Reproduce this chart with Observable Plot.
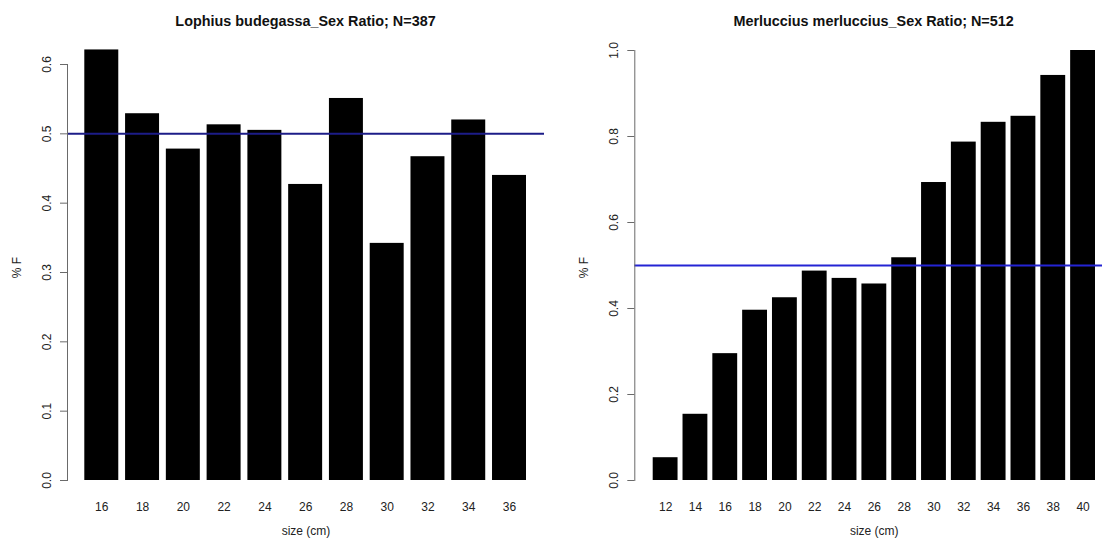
<!DOCTYPE html>
<html>
<head>
<meta charset="utf-8">
<script src="https://cdn.jsdelivr.net/npm/d3@7"></script>
<script src="https://cdn.jsdelivr.net/npm/@observablehq/plot@0.6"></script>
<style>
html, body { margin: 0; padding: 0; background: #fff; }
#wrap { position: relative; width: 1102px; height: 539px; overflow: hidden;
        font-family: "Liberation Sans", Arial, Helvetica, sans-serif; }
.panel { position: absolute; top: 0; width: 551px; height: 539px; }
.title { position: absolute; top: 0; height: 40px; width: 420px; text-align: center;
         font-weight: bold; font-size: 14.4px; line-height: 43px; color: #111; white-space: nowrap; }
.chart { position: absolute; top: 40px; left: 0; }
</style>
</head>
<body>
<div id="wrap">
  <div class="panel" style="left:0px">
    <div class="title" id="t1" style="left:95.5px"></div>
    <div class="chart" id="c1"></div>
  </div>
  <div class="panel" style="left:551px">
    <div class="title" id="t2" style="left:112.6px"></div>
    <div class="chart" id="c2"></div>
  </div>
</div>
<script>
// ---- Data ----
const leftTitle = "Lophius budegassa_Sex Ratio; N=387";
const leftSizes = [16, 18, 20, 22, 24, 26, 28, 30, 32, 34, 36];
const leftRatio = [0.621, 0.529, 0.478, 0.513, 0.505, 0.427, 0.551, 0.342, 0.467, 0.520, 0.440];
const leftTicks = [0, 0.1, 0.2, 0.3, 0.4, 0.5, 0.6];

const rightTitle = "Merluccius merluccius_Sex Ratio; N=512";
const rightSizes = [12, 14, 16, 18, 20, 22, 24, 26, 28, 30, 32, 34, 36, 38, 40];
const rightRatio = [0.053, 0.154, 0.295, 0.396, 0.425, 0.487, 0.470, 0.457, 0.518, 0.693, 0.787, 0.833, 0.847, 0.942, 1.0];
const rightTicks = [0, 0.2, 0.4, 0.6, 0.8, 1.0];

const refLine = [0.5];
const yLabel = "% F";
const xLabel = "size (cm)";

function panel(o) {
  const data = o.sizes.map((s, i) => ({size: s, ratio: o.ratios[i]}));
  return Plot.plot({
    width: 551,
    height: 499,
    marginLeft: o.marginLeft,
    marginRight: o.marginRight,
    marginTop: o.marginTop,
    marginBottom: 59,
    style: {fontFamily: '"Liberation Sans", Arial, Helvetica, sans-serif', fontSize: "12px",
            color: "#222", background: "transparent", overflow: "visible"},
    x: {type: "band", domain: o.sizes, paddingInner: 1 / 6, paddingOuter: 0, round: false,
        insetLeft: o.insetLeft, insetRight: o.insetRight, label: null},
    y: {domain: [0, o.yMax], label: null},
    marks: [
      Plot.barY(data, {x: "size", y: "ratio", fill: "black"}),
      Plot.ruleY(refLine, {stroke: o.lineColor, strokeWidth: 2}),
      Plot.frame({anchor: "left", stroke: "#6a6a6a"}),
      Plot.axisY({ticks: o.ticks, tickSize: 7, tickPadding: 13.5, tickRotate: -90,
                  textAnchor: "middle", lineAnchor: "middle", stroke: "#6a6a6a",
                  tickFormat: d3.format(".1f"), label: null}),
      Plot.axisX({tickSize: 0, tickPadding: 22, label: null}),
      Plot.text([yLabel], {text: d => d, frameAnchor: "left", rotate: -90, textAnchor: "middle",
                           lineAnchor: "middle", dx: -50.5, dy: o.yLabelDy}),
      Plot.text([xLabel], {text: d => d, frameAnchor: "bottom", textAnchor: "middle",
                           lineAnchor: "middle", dy: 51, dx: o.xLabelDx})
    ]
  });
}

document.getElementById("t1").textContent = leftTitle;
document.getElementById("t2").textContent = rightTitle;

document.getElementById("c1").append(panel({
  sizes: leftSizes, ratios: leftRatio, ticks: leftTicks, yMax: 0.6,
  marginLeft: 67, marginRight: 7, marginTop: 24, insetLeft: 17.3, insetRight: 18,
  lineColor: "#1c1c88", yLabelDy: -5, xLabelDx: 0
}));
document.getElementById("c2").append(panel({
  sizes: rightSizes, ratios: rightRatio, ticks: rightTicks, yMax: 1.0,
  marginLeft: 83.3, marginRight: 0, marginTop: 10, insetLeft: 18.4, insetRight: 7,
  lineColor: "#2424d4", yLabelDy: 2, xLabelDx: 5.6
}));
</script>
</body>
</html>
